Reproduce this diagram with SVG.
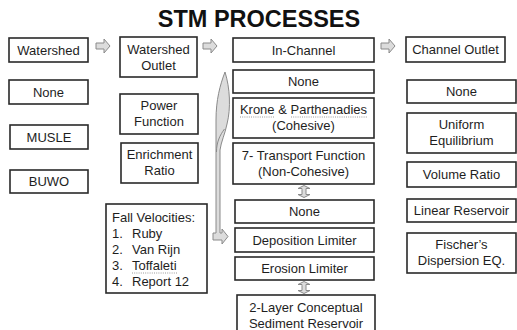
<svg xmlns="http://www.w3.org/2000/svg" width="517" height="330" viewBox="0 0 517 330">
  <style>
    .box { fill: #ffffff; stroke: #2a2a2a; stroke-width: 1.6; }
    .lbl { font-family: "Liberation Sans", Arial, sans-serif; font-size: 13px; fill: #1e1e1e; text-anchor: middle; }
    .lft { text-anchor: start; }
    .title { font-family: "Liberation Sans", Arial, sans-serif; font-size: 23.5px; font-weight: bold; fill: #111; text-anchor: middle; }
    .blk { fill: #dcdcdc; stroke: #8a8a8a; stroke-width: 1; stroke-linejoin: miter; }
    .spell { stroke: #9a9a9a; stroke-width: 1; stroke-dasharray: 1 1.2; fill: none; }
  </style>
  <defs>
    <!-- hollow right-pointing block arrow, origin at its left edge / centre line -->
    <path id="blockRight" d="M0,-3 H8 V-7 L14,0 L8,7 V3 H0 Z"/>
    <!-- up/down double block arrow, origin at its centre -->
    <path id="blockUpDown" d="M-2,-2 V-3 H-6 L0,-6 L6,-3 H2 V3 H6 L0,6 L-6,3 H-2 Z"/>
  </defs>

  <rect width="517" height="330" fill="#ffffff"/>

  <text class="title" x="259" y="27">STM PROCESSES</text>

  <!-- Column: Watershed -->
  <g id="watershed"><rect class="box" x="9" y="38" width="79" height="24"/><text class="lbl" x="48.5" y="55">Watershed</text></g>
  <g id="ws-none"><rect class="box" x="9" y="80" width="79" height="24"/><text class="lbl" x="48.5" y="97">None</text></g>
  <g id="ws-musle"><rect class="box" x="10" y="125" width="78" height="24"/><text class="lbl" x="49" y="142">MUSLE</text></g>
  <g id="ws-buwo"><rect class="box" x="10" y="170" width="78" height="23"/><text class="lbl" x="49" y="186">BUWO</text></g>

  <!-- Column: Watershed Outlet -->
  <g id="watershed-outlet"><rect class="box" x="120" y="37" width="77" height="40"/><text class="lbl" x="158.5" y="54">Watershed</text><text class="lbl" x="158.5" y="70">Outlet</text></g>
  <g id="wo-power"><rect class="box" x="120" y="94" width="78" height="40"/><text class="lbl" x="159" y="110">Power</text><text class="lbl" x="159" y="126">Function</text></g>
  <g id="wo-enrichment"><rect class="box" x="121" y="143" width="77" height="40"/><text class="lbl" x="159.5" y="159">Enrichment</text><text class="lbl" x="159.5" y="175">Ratio</text></g>
  <g id="fall-velocities">
    <rect class="box" x="106" y="204" width="101" height="89"/>
    <text class="lbl lft" x="112" y="222">Fall Velocities:</text>
    <text class="lbl lft" x="112" y="238">1.</text><text class="lbl lft" x="132" y="238">Ruby</text>
    <text class="lbl lft" x="112" y="254">2.</text><text class="lbl lft" x="132" y="254">Van Rijn</text>
    <text class="lbl lft" x="112" y="270">3.</text><text class="lbl lft" x="132" y="270">Toffaleti</text>
    <text class="lbl lft" x="112" y="286">4.</text><text class="lbl lft" x="132" y="286">Report 12</text>
    <line class="spell" x1="132" y1="273" x2="178" y2="273"/>
  </g>

  <!-- Column: In-Channel -->
  <g id="in-channel"><rect class="box" x="233" y="38" width="141" height="24"/><text class="lbl" x="303.5" y="55">In-Channel</text></g>
  <g id="ic-none"><rect class="box" x="233" y="70" width="141" height="23"/><text class="lbl" x="303.5" y="86">None</text></g>
  <g id="ic-krone">
    <rect class="box" x="233" y="98" width="141" height="40"/>
    <text class="lbl" x="303.5" y="114">Krone &amp; Parthenadies</text>
    <text class="lbl" x="303.5" y="130">(Cohesive)</text>
    <line class="spell" x1="240" y1="117" x2="274" y2="117"/>
    <line class="spell" x1="291" y1="117" x2="367" y2="117"/>
  </g>
  <g id="ic-transport"><rect class="box" x="233" y="143" width="141" height="41"/><text class="lbl" x="303.5" y="160">7- Transport Function</text><text class="lbl" x="303.5" y="176">(Non-Cohesive)</text></g>
  <g id="ic-none2"><rect class="box" x="235" y="200" width="139" height="23"/><text class="lbl" x="304.5" y="216">None</text></g>
  <g id="ic-deposition"><rect class="box" x="235" y="228" width="139" height="24"/><text class="lbl" x="304.5" y="245">Deposition Limiter</text></g>
  <g id="ic-erosion"><rect class="box" x="235" y="257" width="139" height="23"/><text class="lbl" x="304.5" y="273">Erosion Limiter</text></g>
  <g id="ic-reservoir"><rect class="box" x="237" y="295" width="138" height="40"/><text class="lbl" x="306" y="312">2-Layer Conceptual</text><text class="lbl" x="306" y="328">Sediment Reservoir</text></g>

  <!-- Column: Channel Outlet -->
  <g id="channel-outlet"><rect class="box" x="406" y="37" width="99" height="25"/><text class="lbl" x="455.5" y="54">Channel Outlet</text></g>
  <g id="co-none"><rect class="box" x="407" y="80" width="109" height="23"/><text class="lbl" x="461.5" y="96">None</text></g>
  <g id="co-uniform"><rect class="box" x="407" y="113" width="109" height="40"/><text class="lbl" x="461.5" y="129">Uniform</text><text class="lbl" x="461.5" y="145">Equilibrium</text></g>
  <g id="co-volume"><rect class="box" x="407" y="162" width="109" height="25"/><text class="lbl" x="461.5" y="179">Volume Ratio</text></g>
  <g id="co-linear"><rect class="box" x="407" y="199" width="109" height="23"/><text class="lbl" x="461.5" y="215">Linear Reservoir</text></g>
  <g id="co-fischer"><rect class="box" x="407" y="233" width="109" height="40"/><text class="lbl" x="461.5" y="249">Fischer’s</text><text class="lbl" x="461.5" y="265">Dispersion EQ.</text></g>

  <!-- Connectors -->
  <g id="connectors">
    <use href="#blockRight" class="blk" x="96" y="46"/>
    <use href="#blockRight" class="blk" x="203" y="46"/>
    <use href="#blockRight" class="blk" x="381" y="46"/>
    <use href="#blockUpDown" class="blk" x="304" y="191.5"/>
    <use href="#blockUpDown" class="blk" x="304" y="287.5"/>
    <!-- curved arrow sweeping down into the deposition limiter -->
    <path class="blk" d="M225,72 C230,88 231,108 227,124 C225,134 221,142 220,150 L220,233 L222,233 L222,229 L228,236.5 L222,244 L222,240 L213,240 L213,233 L216,233 L216,120 C216,100 220,85 225,72 Z"/>
    <path d="M216.5,152 C216.5,142 220,135 224.5,129" fill="none" stroke="#8a8a8a" stroke-width="1"/>
  </g>
</svg>
